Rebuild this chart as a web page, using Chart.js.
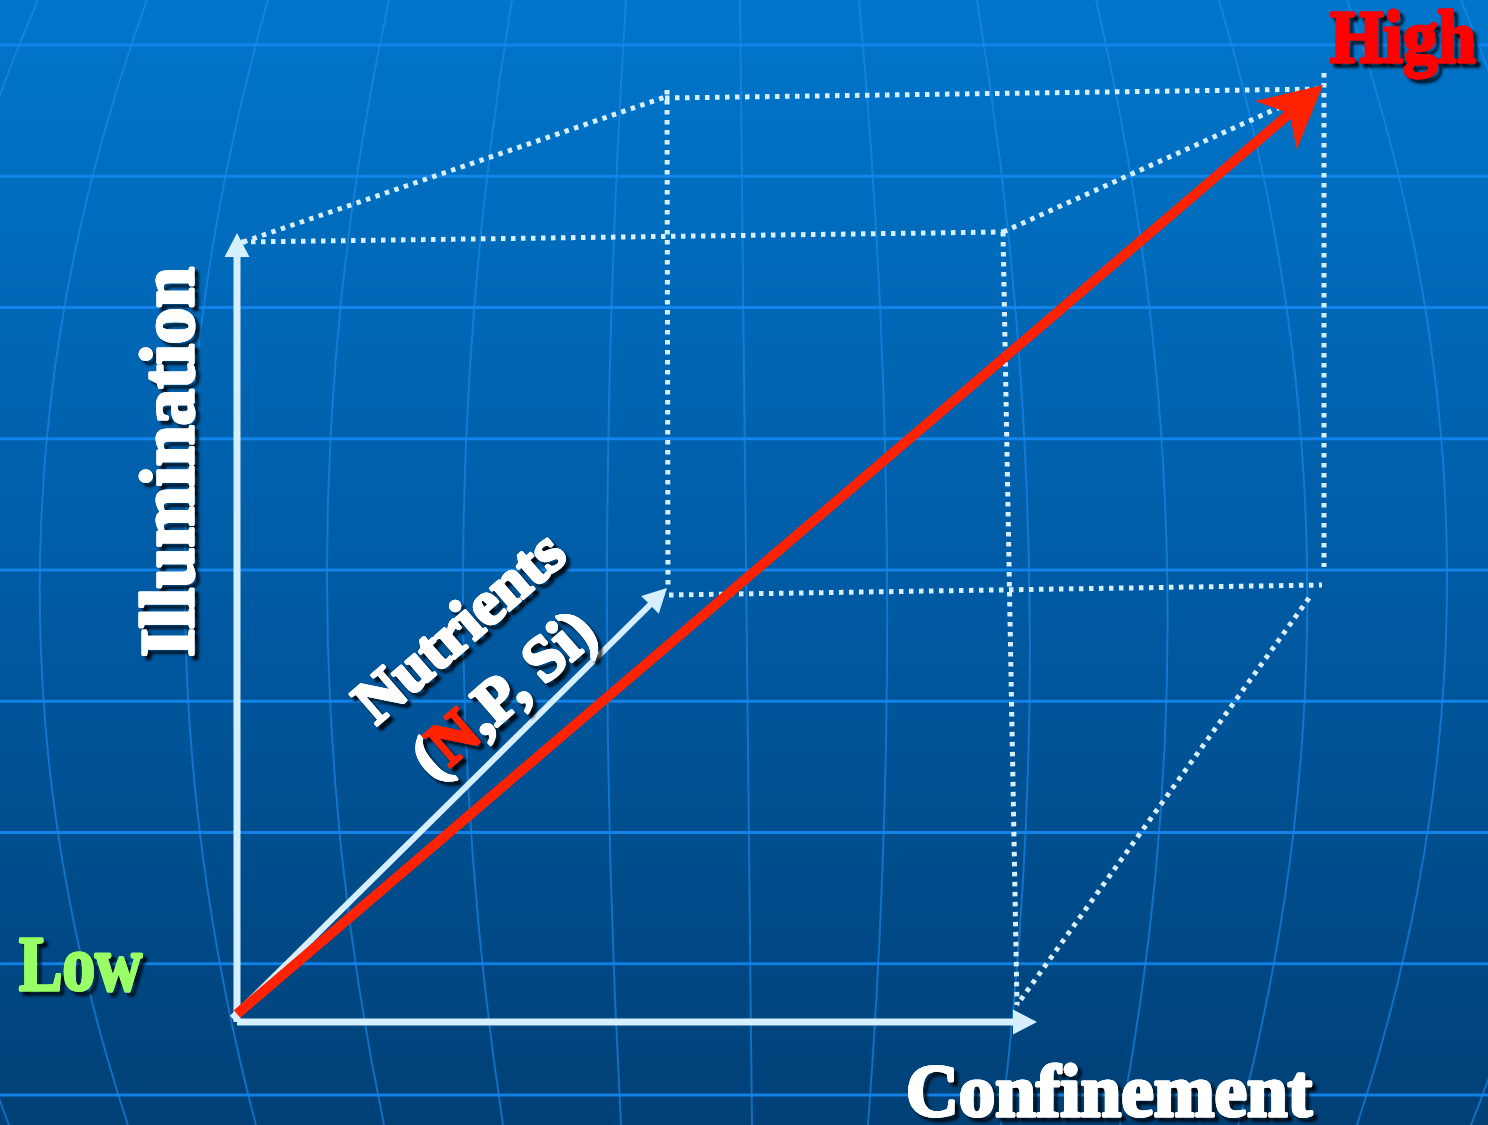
<!DOCTYPE html>
<html>
<head>
<meta charset="utf-8">
<script src="https://cdn.jsdelivr.net/npm/chart.js@4.4.1/dist/chart.umd.min.js"></script>
<style>
  html, body { margin: 0; padding: 0; background: #00508f; overflow: hidden; }
  canvas { display: block; }
</style>
</head>
<body>
<canvas id="myChart" width="1488" height="1125"></canvas>
<script>
// diagram units, origin at the "Low" corner
const axisLabels = ['Confinement', 'Illumination', 'Nutrients'];
const nutrientParts = ['(', 'N', ',P, Si)'];
const levelLabels = ['Low', 'High'];

// cube edges [x1, y1, x2, y2]
const boxEdges = [
  [4, 779, 766, 789],
  [766, 789, 780, 16],
  [6, 779, 428, 924],
  [430, 931, 431, 431],
  [428, 923, 1086, 932],
  [1087, 948, 1087, 454],
  [432, 426, 1085, 436],
  [766, 789, 1081, 931],
  [1072, 423, 780, 16]
];

// confinement, illumination, nutrients
const axisArrows = [
  [0, -1, 800, -1],
  [0, -1, 0, 788],
  [-5, 3, 430, 433]
];
const trendArrow = [0, 7, 1086, 936];

function shorten(s, len) {
  const dx = s[2] - s[0], dy = s[3] - s[1], d = Math.hypot(dx, dy);
  return [{x: s[0], y: s[1]}, {x: s[2] - dx / d * len, y: s[3] - dy / d * len}];
}

const datasets = [];
datasets.push({
  data: shorten(trendArrow, 40), tip: trendArrow,
  head: {len: 62, half: 32, notch: 44},
  borderColor: '#ff2200', borderWidth: 10, order: 0
});
axisArrows.forEach((a, i) => {
  datasets.push({
    data: shorten(a, 20), tip: a,
    head: {len: 24, half: 12.5, notch: 24},
    borderColor: '#d5efff', borderWidth: i == 2 ? 6 : 7, order: 1
  });
});
boxEdges.forEach(e => {
  datasets.push({
    data: [{x: e[0], y: e[1]}, {x: e[2], y: e[3]}],
    borderColor: '#d8effd', borderWidth: 5, borderDash: [4.5, 5.5], order: 2
  });
});
datasets.forEach(ds => {
  ds.showLine = true;
  ds.pointRadius = 0;
  ds.pointHoverRadius = 0;
  ds.borderCapStyle = 'butt';
  ds.fill = false;
});

// globe-like background
const meridians = [
  [38, -92, 9], [147, 40, 128], [268, 185, 256], [389, 327, 384],
  [512, 463, 503], [626, 607, 621], [740, 745, 752], [859, 887, 868],
  [977, 1029, 1001], [1096, 1167, 1120], [1219, 1307, 1238],
  [1347, 1447, 1357], [1461, 1580, 1471]
];

const bgPlugin = {
  id: 'slideBackground',
  beforeDraw(chart) {
    const {ctx, width, height} = chart;
    ctx.save();
    const g = ctx.createLinearGradient(0, 0, 0, height);
    g.addColorStop(0, '#0076cb');
    g.addColorStop(0.5, '#005ca6');
    g.addColorStop(1, '#004076');
    ctx.fillStyle = g;
    ctx.fillRect(0, 0, width, height);
    ctx.strokeStyle = 'rgba(30,140,240,0.6)';
    ctx.lineWidth = 2;
    meridians.forEach(m => {
      const c = 2 * m[1] - 0.5 * (m[0] + m[2]);
      ctx.beginPath();
      ctx.moveTo(m[0], 0);
      ctx.quadraticCurveTo(c, height / 2, m[2], height);
      ctx.stroke();
    });
    ctx.strokeStyle = 'rgba(20,135,240,0.9)';
    ctx.lineWidth = 3;
    for (let i = 0; i < 9; i++) {
      const y = 45 + i * 131.25;
      ctx.beginPath();
      ctx.moveTo(0, y);
      ctx.lineTo(width, y);
      ctx.stroke();
    }
    ctx.restore();
  }
};

const headPlugin = {
  id: 'arrowHeads',
  afterDatasetsDraw(chart) {
    const ctx = chart.ctx, xs = chart.scales.x, ys = chart.scales.y;
    chart.data.datasets.forEach(ds => {
      if (!ds.tip) return;
      const x0 = xs.getPixelForValue(ds.tip[0]), y0 = ys.getPixelForValue(ds.tip[1]);
      const x1 = xs.getPixelForValue(ds.tip[2]), y1 = ys.getPixelForValue(ds.tip[3]);
      const d = Math.hypot(x1 - x0, y1 - y0);
      const ux = (x1 - x0) / d, uy = (y1 - y0) / d, nx = -uy, ny = ux;
      const h = ds.head;
      ctx.save();
      ctx.beginPath();
      ctx.moveTo(x1, y1);
      ctx.lineTo(x1 - ux * h.len + nx * h.half, y1 - uy * h.len + ny * h.half);
      ctx.lineTo(x1 - ux * h.notch, y1 - uy * h.notch);
      ctx.lineTo(x1 - ux * h.len - nx * h.half, y1 - uy * h.len - ny * h.half);
      ctx.closePath();
      ctx.fillStyle = ds.borderColor;
      ctx.fill();
      ctx.restore();
    });
  }
};

function shadowText(ctx, txt, x, y, color, maxW) {
  ctx.save();
  ctx.shadowColor = 'rgba(0,0,0,0.95)';
  ctx.shadowOffsetX = 4;
  ctx.shadowOffsetY = 4;
  ctx.shadowBlur = 3;
  ctx.fillStyle = color;
  ctx.strokeStyle = color;
  ctx.lineWidth = 3;
  ctx.lineJoin = 'round';
  if (maxW) ctx.strokeText(txt, x, y, maxW); else ctx.strokeText(txt, x, y);
  ctx.restore();
  ctx.save();
  ctx.fillStyle = color;
  ctx.strokeStyle = color;
  ctx.lineWidth = 3;
  ctx.lineJoin = 'round';
  if (maxW) ctx.fillText(txt, x, y, maxW); else ctx.fillText(txt, x, y);
  if (maxW) ctx.strokeText(txt, x, y, maxW); else ctx.strokeText(txt, x, y);
  ctx.restore();
}

const labelPlugin = {
  id: 'labels',
  afterDraw(chart) {
    const ctx = chart.ctx;
    const serif = '"Liberation Serif", "DejaVu Serif", serif';
    ctx.save();
    ctx.textBaseline = 'alphabetic';
    ctx.textAlign = 'left';

    ctx.font = 'bold 75px ' + serif;
    shadowText(ctx, levelLabels[1], 1330, 62, '#ff0000', 146);
    ctx.font = 'bold 78px ' + serif;
    shadowText(ctx, levelLabels[0], 19, 990, '#99ff66', 123);
    ctx.font = 'bold 74px ' + serif;
    shadowText(ctx, axisLabels[0], 906, 1116, '#ffffff', 406);

    ctx.save();
    ctx.translate(193, 657);
    ctx.rotate(-Math.PI / 2);
    ctx.font = 'bold 77px ' + serif;
    shadowText(ctx, axisLabels[1], 0, 0, '#ffffff', 390);
    ctx.restore();

    const ang = -41 * Math.PI / 180;
    ctx.font = 'bold 63px ' + serif;
    ctx.save();
    ctx.translate(462, 630);
    ctx.rotate(ang);
    ctx.textAlign = 'center';
    ctx.textBaseline = 'middle';
    shadowText(ctx, axisLabels[2], 0, 0, '#ffffff');
    ctx.restore();

    ctx.save();
    ctx.translate(506, 697);
    ctx.rotate(ang);
    ctx.textBaseline = 'middle';
    const widths = nutrientParts.map(p => ctx.measureText(p).width);
    let x = -widths.reduce((a, b) => a + b, 0) / 2;
    nutrientParts.forEach((p, i) => {
      shadowText(ctx, p, x, 0, i == 1 ? '#ff2200' : '#ffffff');
      x += widths[i];
    });
    ctx.restore();
    ctx.restore();
  }
};

const ctx = document.getElementById('myChart');
new Chart(ctx, {
  type: 'scatter',
  data: { datasets: datasets },
  options: {
    responsive: false,
    animation: false,
    devicePixelRatio: 1,
    events: [],
    layout: { padding: 0 },
    plugins: { legend: { display: false }, tooltip: { enabled: false } },
    scales: {
      x: { type: 'linear', min: -237, max: 1251, display: false },
      y: { type: 'linear', min: -104, max: 1021, display: false }
    }
  },
  plugins: [bgPlugin, headPlugin, labelPlugin]
});
</script>
</body>
</html>
